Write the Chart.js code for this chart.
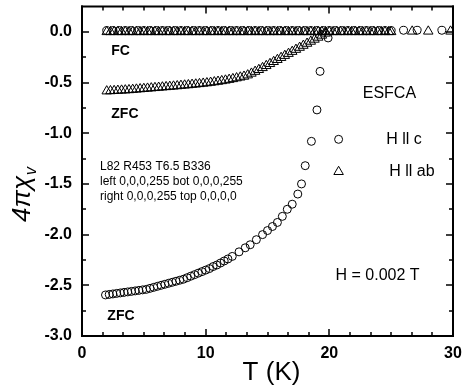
<!DOCTYPE html>
<html>
<head>
<meta charset="utf-8">
<script src="https://cdn.jsdelivr.net/npm/chart.js@4.4.0/dist/chart.umd.min.js"></script>
<style>
  html, body { margin: 0; padding: 0; background: #fff; }
  canvas { display: block; }
</style>
</head>
<body>
<canvas id="myChart" width="462" height="392"></canvas>
<script>
// H || c, zero-field cooled
var zfcCircleT = [1.9, 2.2, 2.5, 2.8, 3.1, 3.4, 3.7, 4.0, 4.3, 4.6,
  4.9, 5.2, 5.5, 5.8, 6.1, 6.4, 6.7, 7.0, 7.3, 7.6,
  7.9, 8.2, 8.5, 8.8, 9.1, 9.4, 9.7, 10.0, 10.3, 10.6,
  10.9, 11.2, 11.5, 11.8, 12.15, 12.7, 13.2, 13.6, 14.1, 14.6,
  15.0, 15.4, 15.8, 16.2, 16.6, 17.0, 17.45, 17.75, 18.05, 18.55,
  19.0, 19.25, 19.9];
var zfcCircleV = [-2.595, -2.59, -2.585, -2.58, -2.575, -2.57, -2.565, -2.56, -2.555, -2.55,
  -2.545, -2.54, -2.53, -2.52, -2.51, -2.50, -2.49, -2.48, -2.47, -2.46,
  -2.45, -2.44, -2.425, -2.41, -2.395, -2.38, -2.365, -2.35, -2.335, -2.315,
  -2.30, -2.28, -2.26, -2.24, -2.215, -2.17, -2.13, -2.10, -2.05, -2.00,
  -1.96, -1.92, -1.88, -1.82, -1.75, -1.70, -1.60, -1.50, -1.32, -1.08,
  -0.77, -0.39, -0.06];

// H || ab, zero-field cooled
var zfcTriT = [2.0, 2.3, 2.6, 2.9, 3.2, 3.5, 3.8, 4.1, 4.4, 4.7,
  5.0, 5.3, 5.6, 5.9, 6.2, 6.5, 6.8, 7.1, 7.4, 7.7,
  8.0, 8.3, 8.6, 8.9, 9.2, 9.5, 9.8, 10.1, 10.4, 10.7,
  11.0, 11.3, 11.6, 11.9, 12.2, 12.5, 12.8, 13.1, 13.4, 13.7,
  14.0, 14.3, 14.6, 14.9, 15.2, 15.5, 15.8, 16.1, 16.4, 16.7,
  17.0, 17.3, 17.6, 17.9, 18.2, 18.5, 18.8, 19.1, 19.4, 19.7];
var zfcTriV = [-0.585, -0.583, -0.581, -0.579, -0.577, -0.575, -0.573, -0.570, -0.567, -0.564,
  -0.561, -0.558, -0.555, -0.552, -0.549, -0.546, -0.543, -0.540, -0.537, -0.534,
  -0.530, -0.527, -0.524, -0.520, -0.517, -0.513, -0.509, -0.505, -0.500, -0.495,
  -0.490, -0.484, -0.478, -0.471, -0.464, -0.456, -0.448, -0.440, -0.427, -0.410,
  -0.392, -0.374, -0.355, -0.335, -0.315, -0.295, -0.275, -0.255, -0.235, -0.215,
  -0.195, -0.175, -0.155, -0.135, -0.115, -0.095, -0.075, -0.055, -0.035, -0.015];

// H || c, field cooled
var fcCircleT = [2.0, 2.5, 3.0, 3.5, 4.0, 4.5, 5.0, 5.5, 6.0, 6.5,
  7.0, 7.5, 8.0, 8.5, 9.0, 9.5, 10.0, 10.5, 11.0, 11.5,
  12.0, 12.5, 13.0, 13.5, 14.0, 14.5, 15.0, 15.5, 16.0, 16.5,
  17.0, 17.5, 18.0, 18.5, 19.0, 19.5, 20.0, 20.5, 21.0, 21.5,
  22.0, 22.5, 23.0, 23.5, 24.0, 24.5, 25.0, 26.0, 27.1, 29.1];
var fcCircleV = [0.012, 0.012, 0.012, 0.012, 0.012, 0.012, 0.012, 0.012, 0.012, 0.012,
  0.012, 0.012, 0.012, 0.012, 0.012, 0.012, 0.012, 0.012, 0.012, 0.012,
  0.012, 0.012, 0.012, 0.012, 0.012, 0.012, 0.012, 0.012, 0.012, 0.012,
  0.012, 0.012, 0.012, 0.012, 0.012, 0.012, 0.012, 0.012, 0.012, 0.012,
  0.012, 0.012, 0.012, 0.012, 0.012, 0.012, 0.012, 0.015, 0.015, 0.015];

// H || ab, field cooled
var fcTriT = [2.0, 2.3, 2.6, 2.9, 3.2, 3.5, 3.8, 4.1, 4.4, 4.7,
  5.0, 5.3, 5.6, 5.9, 6.2, 6.5, 6.8, 7.1, 7.4, 7.7,
  8.0, 8.3, 8.6, 8.9, 9.2, 9.5, 9.8, 10.1, 10.4, 10.7,
  11.0, 11.3, 11.6, 11.9, 12.2, 12.5, 12.8, 13.1, 13.4, 13.7,
  14.0, 14.3, 14.6, 14.9, 15.2, 15.5, 15.8, 16.1, 16.4, 16.7,
  17.0, 17.3, 17.6, 17.9, 18.2, 18.5, 18.8, 19.1, 19.4, 19.7,
  20.0, 20.3, 20.6, 20.9, 21.2, 21.5, 21.8, 22.1, 22.4, 22.7,
  23.0, 23.3, 23.6, 23.9, 24.2, 24.5, 24.8, 25.0, 26.7, 28.0,
  29.8];
var fcTriV = [0, 0, 0, 0, 0, 0, 0, 0, 0, 0,
  0, 0, 0, 0, 0, 0, 0, 0, 0, 0,
  0, 0, 0, 0, 0, 0, 0, 0, 0, 0,
  0, 0, 0, 0, 0, 0, 0, 0, 0, 0,
  0, 0, 0, 0, 0, 0, 0, 0, 0, 0,
  0, 0, 0, 0, 0, 0, 0, 0, 0, 0,
  0, 0, 0, 0, 0, 0, 0, 0, 0, 0,
  0, 0, 0, 0, 0, 0, 0, 0, 0.005, 0.005,
  0.005];

var xTickLabels = [0, 10, 20, 30];
var yTickLabels = ['-3.0', '-2.5', '-2.0', '-1.5', '-1.0', '-0.5', '0.0'];

var FONT = "'Liberation Sans', Arial, sans-serif";

function toPoints(xs, ys) {
  var pts = [];
  for (var i = 0; i < xs.length; i++) {
    pts.push({ x: xs[i], y: ys[i] });
  }
  return pts;
}

function markerSet(xs, ys, style, radius) {
  return {
    data: toPoints(xs, ys),
    showLine: false,
    pointStyle: style,
    pointRadius: radius,
    pointBorderWidth: 1,
    pointBorderColor: '#000',
    pointBackgroundColor: 'rgba(0,0,0,0)'
  };
}

function px(c, x, y) {
  var d = c.getImageData(x, y, 1, 1).data;
  return d[0] + ',' + d[1] + ',' + d[2] + ',' + d[3];
}

// Frame, inward ticks, annotations and axis titles
var decorations = {
  id: 'decorations',
  afterDraw: function(chart) {
    var c = chart.ctx, a = chart.chartArea;
    var xs = chart.scales.x, ys = chart.scales.y;
    var k, tx, ty, len;
    c.save();
    c.fillStyle = '#000';
    c.fillRect(a.left - 1, a.top - 1, a.right - a.left + 2, 2);
    c.fillRect(a.left - 1, a.bottom - 1, a.right - a.left + 2, 2);
    c.fillRect(a.left - 1, a.top - 1, 2, a.bottom - a.top + 2);
    c.fillRect(a.right - 1, a.top - 1, 2, a.bottom - a.top + 2);
    for (k = 1; k < 18; k++) {
      tx = Math.round(xs.getPixelForValue(k * 30 / 18));
      len = (k % 6 === 0) ? 7 : 4;
      c.fillRect(tx - 0.75, a.bottom - len, 1.5, len);
      c.fillRect(tx - 0.75, a.top, 1.5, len);
    }
    for (k = 1; k < 13; k++) {
      ty = Math.round(ys.getPixelForValue(-3 + k * 0.25));
      len = (k % 2 === 0) ? 7 : 4;
      c.fillRect(a.left, ty - 0.75, len, 1.5);
      c.fillRect(a.right - len, ty - 0.75, len, 1.5);
    }

    c.textBaseline = 'middle';
    c.textAlign = 'left';
    c.font = 'bold 14px ' + FONT;
    c.fillText('FC', xs.getPixelForValue(2.37), ys.getPixelForValue(-0.19));
    c.fillText('ZFC', xs.getPixelForValue(2.37), ys.getPixelForValue(-0.81));
    c.fillText('ZFC', xs.getPixelForValue(2.05), ys.getPixelForValue(-2.80));

    c.font = '16px ' + FONT;
    c.fillText('ESFCA', xs.getPixelForValue(22.7), ys.getPixelForValue(-0.61));
    c.fillText('H ll c', xs.getPixelForValue(24.6), ys.getPixelForValue(-1.06));
    c.fillText('H ll ab', xs.getPixelForValue(24.85), ys.getPixelForValue(-1.38));
    c.fillText('H = 0.002 T', xs.getPixelForValue(20.5), ys.getPixelForValue(-2.40));

    c.strokeStyle = '#000';
    c.lineWidth = 1;
    var lx = xs.getPixelForValue(20.75);
    var ly = ys.getPixelForValue(-1.06);
    c.beginPath();
    c.arc(lx, ly, 4, 0, Math.PI * 2);
    c.stroke();
    ly = ys.getPixelForValue(-1.38);
    var r = 5.5;
    c.beginPath();
    c.moveTo(lx, ly - r);
    c.lineTo(lx + r * Math.sin(2 * Math.PI / 3), ly - r * Math.cos(2 * Math.PI / 3));
    c.lineTo(lx + r * Math.sin(4 * Math.PI / 3), ly - r * Math.cos(4 * Math.PI / 3));
    c.closePath();
    c.stroke();

    c.textAlign = 'center';
    c.textBaseline = 'alphabetic';
    c.font = '26px ' + FONT;
    c.fillText('T (K)', (a.left + a.right) / 2 + 4, 380);

    // pixel read-back check
    c.textAlign = 'left';
    c.font = '12px ' + FONT;
    c.fillText('L' + a.left + ' R' + a.right + ' T' + a.top + ' B' + a.bottom, 100, 170);
    c.fillText('left ' + px(c, 82, 200) + ' bot ' + px(c, 300, 335), 100, 185);
    c.fillText('right ' + px(c, 453, 200) + ' top ' + px(c, 300, 3), 100, 200);

    c.translate(30, 222);
    c.rotate(-Math.PI / 2);
    c.font = 'italic 26px ' + FONT;
    c.fillText('4\u03c0\u03c7', 0, 0);
    var w = c.measureText('4\u03c0\u03c7').width;
    c.font = 'italic 16px ' + FONT;
    c.fillText('v', w + 1, 6);
    c.restore();
  }
};

var myChart = new Chart(document.getElementById('myChart').getContext('2d'), {
  type: 'scatter',
  data: {
    datasets: [
      markerSet(zfcCircleT, zfcCircleV, 'circle', 4),
      markerSet(fcCircleT, fcCircleV, 'circle', 4),
      markerSet(zfcTriT, zfcTriV, 'triangle', 5.5),
      markerSet(fcTriT, fcTriV, 'triangle', 5.5)
    ]
  },
  options: {
    responsive: false,
    animation: false,
    layout: { padding: { top: 3, right: 9, left: 0, bottom: 0 } },
    plugins: {
      legend: { display: false },
      tooltip: { enabled: false }
    },
    scales: {
      x: {
        type: 'linear',
        min: 0,
        max: 30,
        afterFit: function(scale) {
          scale.height = 56;
          scale.paddingLeft = 0;
          scale.paddingRight = 0;
        },
        afterBuildTicks: function(scale) {
          scale.ticks = xTickLabels.map(function(v) { return { value: v }; });
        },
        ticks: {
          color: '#000',
          padding: 8,
          font: { family: FONT, size: 16, weight: 'bold' }
        },
        grid: { display: false, drawTicks: false },
        border: { display: true, color: '#000', width: 2 }
      },
      y: {
        type: 'linear',
        min: -3,
        max: 0.25,
        afterFit: function(scale) {
          scale.width = 82;
          scale.paddingTop = 0;
          scale.paddingBottom = 0;
        },
        afterBuildTicks: function(scale) {
          scale.ticks = yTickLabels.map(function(s) { return { value: parseFloat(s) }; });
        },
        ticks: {
          color: '#000',
          padding: 10,
          font: { family: FONT, size: 16, weight: 'bold' },
          callback: function(v) { return v.toFixed(1); }
        },
        grid: { display: false, drawTicks: false },
        border: { display: true, color: '#000', width: 2 }
      }
    }
  },
  plugins: [decorations]
});
</script>
</body>
</html>
